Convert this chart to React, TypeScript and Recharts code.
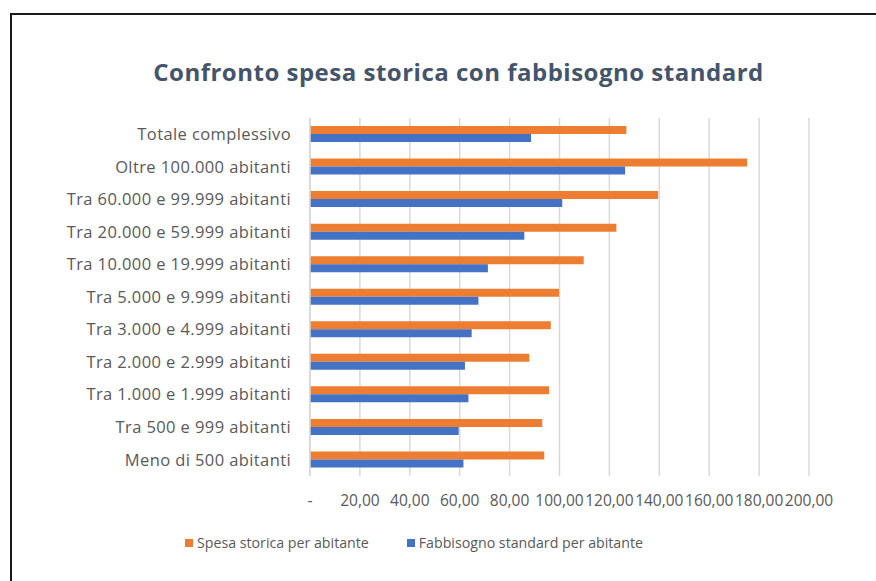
import {BarChart, Bar, XAxis, YAxis, CartesianGrid} from 'recharts';

const categories = [
    'Totale complessivo',
    'Oltre 100.000 abitanti',
    'Tra 60.000 e 99.999 abitanti',
    'Tra 20.000 e 59.999 abitanti',
    'Tra 10.000 e 19.999 abitanti',
    'Tra 5.000 e 9.999 abitanti',
    'Tra 3.000 e 4.999 abitanti',
    'Tra 2.000 e 2.999 abitanti',
    'Tra 1.000 e 1.999 abitanti',
    'Tra 500 e 999 abitanti',
    'Meno di 500 abitanti',
];
const spesaStorica = [126.8, 175.2, 139.5, 122.8, 109.7, 99.8, 96.5, 87.9, 95.8, 93.1, 93.9];
const fabbisogno = [88.6, 126.3, 101.1, 85.9, 71.3, 67.5, 64.8, 62.1, 63.5, 59.6, 61.5];
const xTicks = [0, 20, 40, 60, 80, 100, 120, 140, 160, 180, 200];
const seriesNames = ['Spesa storica per abitante', 'Fabbisogno standard per abitante'];

const ORANGE = '#ED7D31';
const BLUE = '#4472C4';
const FONT = '"Open Sans", sans-serif';

const data = categories.map((name, i) => ({
    name,
    spesa: spesaStorica[i],
    fabbisogno: fabbisogno[i],
}));

const fmt = (v: number) => (v === 0 ? '-' : v.toFixed(2).replace('.', ','));

export default function App() {
    return (
        <div style={{position: 'absolute', left: 0, top: 0, width: 876, height: 581, overflow: 'hidden', background: '#fff'}}>
            <div style={{
                position: 'absolute', left: 10, top: 13, width: 900, height: 600,
                border: '2px solid #1a1a1a', boxSizing: 'border-box'
            }}/>
            <div style={{
                position: 'absolute', left: 0, top: 55, width: 917, textAlign: 'center',
                fontFamily: FONT, fontWeight: 700, fontSize: 24, letterSpacing: 0.5, color: '#44546A'
            }}>
                Confronto spesa storica con fabbisogno standard
            </div>
            <div style={{position: 'absolute', left: 0, top: 0}}>
                <BarChart
                    width={876}
                    height={581}
                    data={data}
                    layout="vertical"
                    margin={{top: 118, right: 67, bottom: 0, left: 0}}
                    barGap={0}
                >
                    <CartesianGrid horizontal={false} stroke="#d9d9d9" strokeWidth={1.5}/>
                    <XAxis
                        type="number"
                        domain={[0, 200]}
                        ticks={xTicks}
                        tickFormatter={fmt}
                        axisLine={false}
                        tickLine={false}
                        tickSize={0}
                        tickMargin={19}
                        interval={0}
                        height={105}
                        tick={{fill: '#595959', fontSize: 15.5, fontFamily: FONT}}
                    />
                    <YAxis
                        type="category"
                        dataKey="name"
                        width={310}
                        axisLine={{stroke: '#d9d9d9', strokeWidth: 1.5}}
                        tickLine={false}
                        tickSize={0}
                        tickMargin={19}
                        interval={0}
                        tick={{fill: '#595959', fontSize: 16.5, fontFamily: FONT, letterSpacing: 0.4}}
                    />
                    <Bar dataKey="spesa" name={seriesNames[0]} fill={ORANGE} barSize={8}
                         isAnimationActive={false}/>
                    <Bar dataKey="fabbisogno" name={seriesNames[1]} fill={BLUE} barSize={8}
                         isAnimationActive={false}/>
                </BarChart>
            </div>
            <div style={{
                position: 'absolute', left: 185, top: 533, display: 'flex',
                fontFamily: FONT, fontSize: 14.2, color: '#595959', whiteSpace: 'nowrap'
            }}>
                <span style={{display: 'flex', alignItems: 'center'}}>
                    <span style={{width: 8, height: 8, background: ORANGE, marginRight: 4}}/>
                    {seriesNames[0]}
                </span>
                <span style={{display: 'flex', alignItems: 'center', marginLeft: 38}}>
                    <span style={{width: 8, height: 8, background: BLUE, marginRight: 4}}/>
                    {seriesNames[1]}
                </span>
            </div>
        </div>
    );
}
